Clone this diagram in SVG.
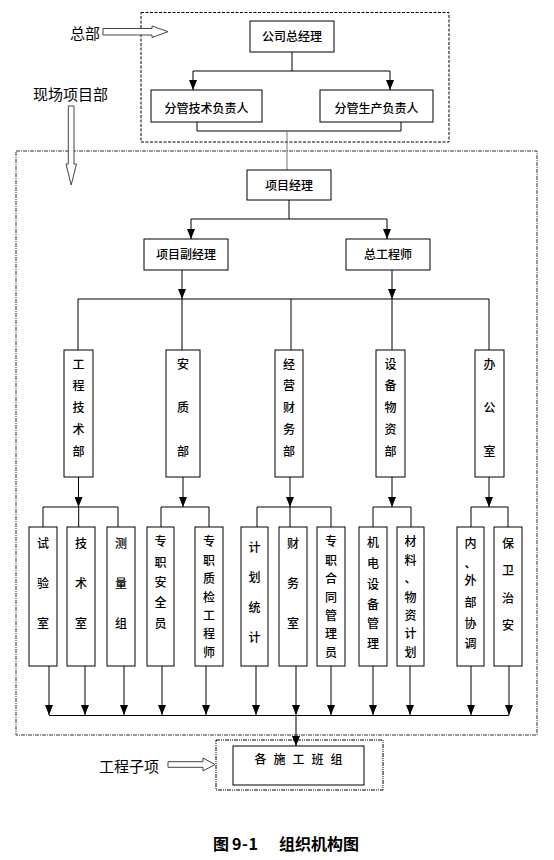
<svg xmlns="http://www.w3.org/2000/svg" width="554" height="860" viewBox="0 0 554 860">
<style>
.t{font-family:"Noto Sans CJK SC","Noto Sans CJK JP",sans-serif;font-size:12px;font-weight:500;text-anchor:middle;fill:#000}
.big{font-family:"Noto Sans CJK SC","Noto Sans CJK JP",sans-serif;font-size:15px;fill:#000}
.cap{font-family:"Noto Sans CJK SC","Noto Sans CJK JP",sans-serif;font-size:16px;font-weight:bold;fill:#000}
.box{fill:#fff;stroke:#000;stroke-width:1}
.ln{fill:none;stroke:#000;stroke-width:1}
.lg{fill:none;stroke:#777;stroke-width:1}
.ar{fill:none;stroke:#000;stroke-width:1;marker-end:url(#ah)}
.dash1{fill:none;stroke:#000;stroke-width:1;stroke-dasharray:3,1.5}
.dash2{fill:none;stroke:#333;stroke-width:1;stroke-dasharray:4,1,1,1}
.dash3{fill:none;stroke:#000;stroke-width:1;stroke-dasharray:4,1,1,1,1,1}
.hollow{fill:#fff;stroke:#444;stroke-width:1}
</style>
<defs>
<marker id="ah" markerUnits="userSpaceOnUse" markerWidth="10" markerHeight="8" viewBox="0 0 10 8" refX="10" refY="4" orient="auto">
<path d="M0,0 L10,4 L0,8 z" fill="#000"/>
</marker>
</defs>

<g id="frames">
<rect class="dash1" x="141" y="12.5" width="308" height="129.5"/>
<rect class="dash2" x="16" y="151" width="521" height="584"/>
<rect class="dash3" x="216" y="740" width="167" height="50"/>
</g>

<g id="labels">
<text class="big" x="70" y="38.5">总部</text>
<polygon class="hollow" points="103,28.5 152,28.5 152,26 168,31.7 152,37.5 152,35 103,35"/>
<text class="big" x="33" y="99.5">现场项目部</text>
<polygon class="hollow" points="68.3,106 74,106 74,164 76.5,164 71.2,185 66,164 68.3,164"/>
<text class="big" x="99" y="771.5">工程子项</text>
<polygon class="hollow" points="168,761.7 203,761.7 203,758 215,764.5 203,771 203,767.3 168,767.3"/>
<text class="cap" y="850"><tspan x="213">图</tspan><tspan x="232" textLength="26" lengthAdjust="spacing">9-1</tspan><tspan x="279">组织机构图</tspan></text>
</g>

<g id="connectors">
<path class="ln" d="M292,52 V71 M193,71 H390"/>
<path class="ar" d="M193,71 V90"/>
<path class="ar" d="M390,71 V90"/>
<path class="ln" d="M197,122 V131 H401 V122"/>
<path class="lg" d="M287,131 V170"/>
<path class="ln" d="M289,200 V219 M191,219 H387"/>
<path class="ar" d="M191,219 V239"/>
<path class="ar" d="M387,219 V239"/>
<path class="ar" d="M182,270 V299"/>
<path class="ar" d="M392,270 V299"/>
<path class="ln" d="M78,299 H489 M78,299 V350 M182,299 V350 M291,299 V350 M392,299 V350 M489,299 V350"/>
<path class="ar" d="M78.5,477 V507"/>
<path class="ar" d="M183,477 V507"/>
<path class="ar" d="M290,477 V507"/>
<path class="ar" d="M392,477 V507"/>
<path class="ar" d="M489,477 V507"/>
<path class="ln" d="M43,507 H118 M43,507 V527 M78.7,507 V527 M118,507 V527"/>
<path class="ln" d="M161,507 H209 M161,507 V527 M209,507 V527"/>
<path class="ln" d="M257,507 H331 M257,507 V527 M290,507 V527 M331,507 V527"/>
<path class="ln" d="M373,507 H411 M373,507 V527 M411,507 V527"/>
<path class="ln" d="M471,507 H508 M471,507 V527 M508,507 V527"/>
<path class="ar" d="M49,666 V715"/>
<path class="ar" d="M85,666 V715"/>
<path class="ar" d="M124,666 V715"/>
<path class="ar" d="M162,666 V715"/>
<path class="ar" d="M206,666 V715"/>
<path class="ar" d="M256,666 V715"/>
<path class="ar" d="M296,666 V715"/>
<path class="ar" d="M331,666 V715"/>
<path class="ar" d="M373,666 V715"/>
<path class="ar" d="M410,666 V715"/>
<path class="ar" d="M471,666 V715"/>
<path class="ar" d="M509,666 V715"/>
<path class="ln" d="M49,715.5 H509"/>
<path class="ar" d="M296,715 V746"/>
</g>

<g id="n-gm"><rect class="box" x="250" y="21" width="84" height="31"/><text class="t" x="292" y="41">公司总经理</text></g>
<g id="n-tech"><rect class="box" x="151" y="90" width="111" height="32"/><text class="t" x="206.5" y="112.5">分管技术负责人</text></g>
<g id="n-prod"><rect class="box" x="320" y="90" width="113" height="32"/><text class="t" x="376.5" y="112.5">分管生产负责人</text></g>
<g id="n-pm"><rect class="box" x="247" y="170" width="84" height="30"/><text class="t" x="289" y="189.5">项目经理</text></g>
<g id="n-dpm"><rect class="box" x="144" y="239" width="84" height="31"/><text class="t" x="186" y="259">项目副经理</text></g>
<g id="n-ce"><rect class="box" x="346" y="239" width="84" height="31"/><text class="t" x="388" y="259">总工程师</text></g>

<g id="n-gcjsb"><rect class="box" x="64" y="350" width="29" height="127"/><text class="t"><tspan x="78.5" y="368.5">工</tspan><tspan x="78.5" y="390.3">程</tspan><tspan x="78.5" y="412">技</tspan><tspan x="78.5" y="433.8">术</tspan><tspan x="78.5" y="455.5">部</tspan></text></g>
<g id="n-azb"><rect class="box" x="166" y="350" width="34" height="127"/><text class="t"><tspan x="183" y="368.5">安</tspan><tspan x="183" y="412">质</tspan><tspan x="183" y="455.5">部</tspan></text></g>
<g id="n-jycwb"><rect class="box" x="275" y="350" width="28" height="127"/><text class="t"><tspan x="289" y="368.5">经</tspan><tspan x="289" y="390.3">营</tspan><tspan x="289" y="412">财</tspan><tspan x="289" y="433.8">务</tspan><tspan x="289" y="455.5">部</tspan></text></g>
<g id="n-sbwzb"><rect class="box" x="376" y="350" width="29" height="127"/><text class="t"><tspan x="390.5" y="368.5">设</tspan><tspan x="390.5" y="390.3">备</tspan><tspan x="390.5" y="412">物</tspan><tspan x="390.5" y="433.8">资</tspan><tspan x="390.5" y="455.5">部</tspan></text></g>
<g id="n-bgs"><rect class="box" x="475" y="350" width="29" height="127"/><text class="t"><tspan x="489.5" y="368.5">办</tspan><tspan x="489.5" y="412">公</tspan><tspan x="489.5" y="455.5">室</tspan></text></g>

<g id="n-syis"><rect class="box" x="29" y="527" width="28" height="139"/><text class="t"><tspan x="43" y="547.5">试</tspan><tspan x="43" y="587.5">验</tspan><tspan x="43" y="627.5">室</tspan></text></g>
<g id="n-jss"><rect class="box" x="67" y="527" width="28" height="139"/><text class="t"><tspan x="81" y="547.5">技</tspan><tspan x="81" y="587.5">术</tspan><tspan x="81" y="627.5">室</tspan></text></g>
<g id="n-clz"><rect class="box" x="107" y="527" width="28" height="139"/><text class="t"><tspan x="121" y="547.5">测</tspan><tspan x="121" y="587.5">量</tspan><tspan x="121" y="627.5">组</tspan></text></g>
<g id="n-zzaqy"><rect class="box" x="147" y="527" width="27" height="139"/><text class="t"><tspan x="160.5" y="545.5">专</tspan><tspan x="160.5" y="566.5">职</tspan><tspan x="160.5" y="586.5">安</tspan><tspan x="160.5" y="606.5">全</tspan><tspan x="160.5" y="627.5">员</tspan></text></g>
<g id="n-zzzj"><rect class="box" x="195" y="527" width="28" height="139"/><text class="t"><tspan x="209" y="545.5">专</tspan><tspan x="209" y="564.5">职</tspan><tspan x="209" y="582.5">质</tspan><tspan x="209" y="601.5">检</tspan><tspan x="209" y="619.5">工</tspan><tspan x="209" y="637.5">程</tspan><tspan x="209" y="656.5">师</tspan></text></g>
<g id="n-jhtj"><rect class="box" x="241" y="527" width="27" height="139"/><text class="t"><tspan x="254.5" y="551.5">计</tspan><tspan x="254.5" y="581.5">划</tspan><tspan x="254.5" y="611.5">统</tspan><tspan x="254.5" y="641.5">计</tspan></text></g>
<g id="n-cws"><rect class="box" x="279" y="527" width="28" height="139"/><text class="t"><tspan x="293" y="547.5">财</tspan><tspan x="293" y="587.5">务</tspan><tspan x="293" y="627.5">室</tspan></text></g>
<g id="n-zzht"><rect class="box" x="317" y="527" width="28" height="139"/><text class="t"><tspan x="331" y="545.5">专</tspan><tspan x="331" y="564.5">职</tspan><tspan x="331" y="582.5">合</tspan><tspan x="331" y="601.5">同</tspan><tspan x="331" y="619.5">管</tspan><tspan x="331" y="637.5">理</tspan><tspan x="331" y="656.5">员</tspan></text></g>
<g id="n-jdsb"><rect class="box" x="359" y="527" width="28" height="139"/><text class="t"><tspan x="373" y="546.5">机</tspan><tspan x="373" y="567.5">电</tspan><tspan x="373" y="588.5">设</tspan><tspan x="373" y="608.5">备</tspan><tspan x="373" y="627.5">管</tspan><tspan x="373" y="647.5">理</tspan></text></g>
<g id="n-clwz"><rect class="box" x="397" y="527" width="27" height="139"/><text class="t"><tspan x="410.5" y="545.5">材</tspan><tspan x="410.5" y="564.5">料</tspan><tspan x="410.5" y="582.5">、</tspan><tspan x="410.5" y="601.5">物</tspan><tspan x="410.5" y="619.5">资</tspan><tspan x="410.5" y="637.5">计</tspan><tspan x="410.5" y="656.5">划</tspan></text></g>
<g id="n-nwb"><rect class="box" x="457" y="527" width="27" height="139"/><text class="t"><tspan x="470.5" y="547.5">内</tspan><tspan x="470.5" y="567.5">、</tspan><tspan x="470.5" y="584.5">外</tspan><tspan x="470.5" y="606.5">部</tspan><tspan x="470.5" y="627.5">协</tspan><tspan x="470.5" y="647.5">调</tspan></text></g>
<g id="n-bwza"><rect class="box" x="494" y="527" width="28" height="139"/><text class="t"><tspan x="508" y="547.5">保</tspan><tspan x="508" y="574.5">卫</tspan><tspan x="508" y="602.5">治</tspan><tspan x="508" y="629.5">安</tspan></text></g>

<g id="n-bz"><rect class="box" x="233" y="746" width="131" height="39"/><text class="t" x="302" y="763.5" style="letter-spacing:7px">各施工班组</text></g>
</svg>
